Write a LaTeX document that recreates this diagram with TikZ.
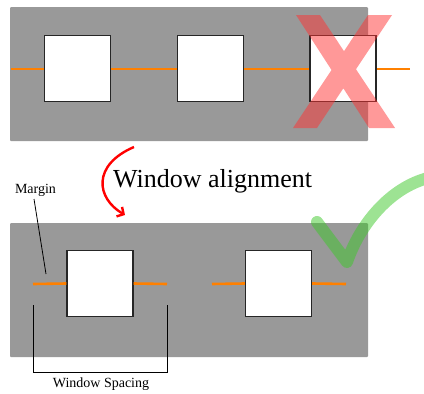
\documentclass[tikz,border=0pt]{standalone}
\usepackage{fontspec}
\setmainfont{Liberation Serif}
\usetikzlibrary{arrows.meta,positioning}
\definecolor{WaGray}{HTML}{999999}
\definecolor{WaOrange}{HTML}{FF8000}
\definecolor{WaRed}{HTML}{FF3333}
\definecolor{WaGreen}{HTML}{3CC828}

\begin{document}
\begin{tikzpicture}[
        x=1pt,y=-1pt,
        panel/.style={fill=WaGray,draw=none,rounded corners=1pt},
        win/.style={draw=black!85,line width=1.1pt,fill=white,minimum size=66pt,inner sep=0pt},
        rail/.style={draw=WaOrange,line width=2.6pt},
        lbl/.style={font=\fontsize{14}{16}\selectfont,inner sep=0pt},
        pin/.style={draw=black,line width=0.8pt},
        bad/.style={fill=WaRed,fill opacity=0.5,draw=none},
        good/.style={draw=WaGreen,opacity=0.5,line width=12pt,line cap=round,line join=round},
        curl/.style={draw=red,line width=2.4pt,-{Straight Barb[length=5pt,width=11pt,line width=2.4pt]}}
      ]
        \useasboundingbox (0,0) rectangle (424,394);
        % top: windows not aligned
        \fill[panel] (10,7) rectangle (368,141);
        \coordinate (ta) at (11,69);
        \coordinate (tb) at (410,69);
        \draw[rail] (ta) -- (tb);
        \node[win] (t1) at (77.5,68.5) {};
        \node[win] (t2) at (210.5,68.5) {};
        \node[win] (t3) at (343,68.5) {};
        \path[bad] (296,15) -- (320,15) -- (395,128) -- (369,128) -- cycle
                   (368,15) -- (392,15) -- (317,128) -- (293,128) -- cycle;
        % arrow and caption
        \coordinate (ca) at (134,147);
        \coordinate (cb) at (125,215);
        \draw[curl] (ca) .. controls (92,165) and (96,198) .. (cb);
        \node[anchor=base west,inner sep=0pt,font=\fontsize{26}{30}\selectfont] (cap) at (113,187) {Window alignment};
        % bottom: windows aligned
        \fill[panel] (10,223) rectangle (368,357);
        \node[win] (b1) at (100,283.5) {};
        \node[win] (b2) at (278.5,283.5) {};
        \coordinate (m1) at (33,284);
        \coordinate (m2) at (167,284);
        \coordinate (m3) at (212,284);
        \coordinate (m4) at (346,284);
        \draw[rail] (m1) -- (b1.west);
        \draw[rail] (b1.east) -- (m2);
        \draw[rail] (m3) -- (b2.west);
        \draw[rail] (b2.east) -- (m4);
        \draw[good] (317,222) -- (347,262) .. controls (360,224) and (390,188) .. (428,178);
        % labels
        \node[lbl,anchor=base] (mg) at (35.5,193) {Margin};
        \coordinate (mp) at (46,274);
        \draw[pin] (34,199) -- (mp);
        \coordinate (s1) at (33,305);
        \coordinate (s2) at (167,305);
        \draw[pin] (s1) -- (33,372) -- (167,372) -- (s2);
        \node[lbl,anchor=base] (sp) at (101,387) {Window Spacing};
      \end{tikzpicture}
\end{document}
